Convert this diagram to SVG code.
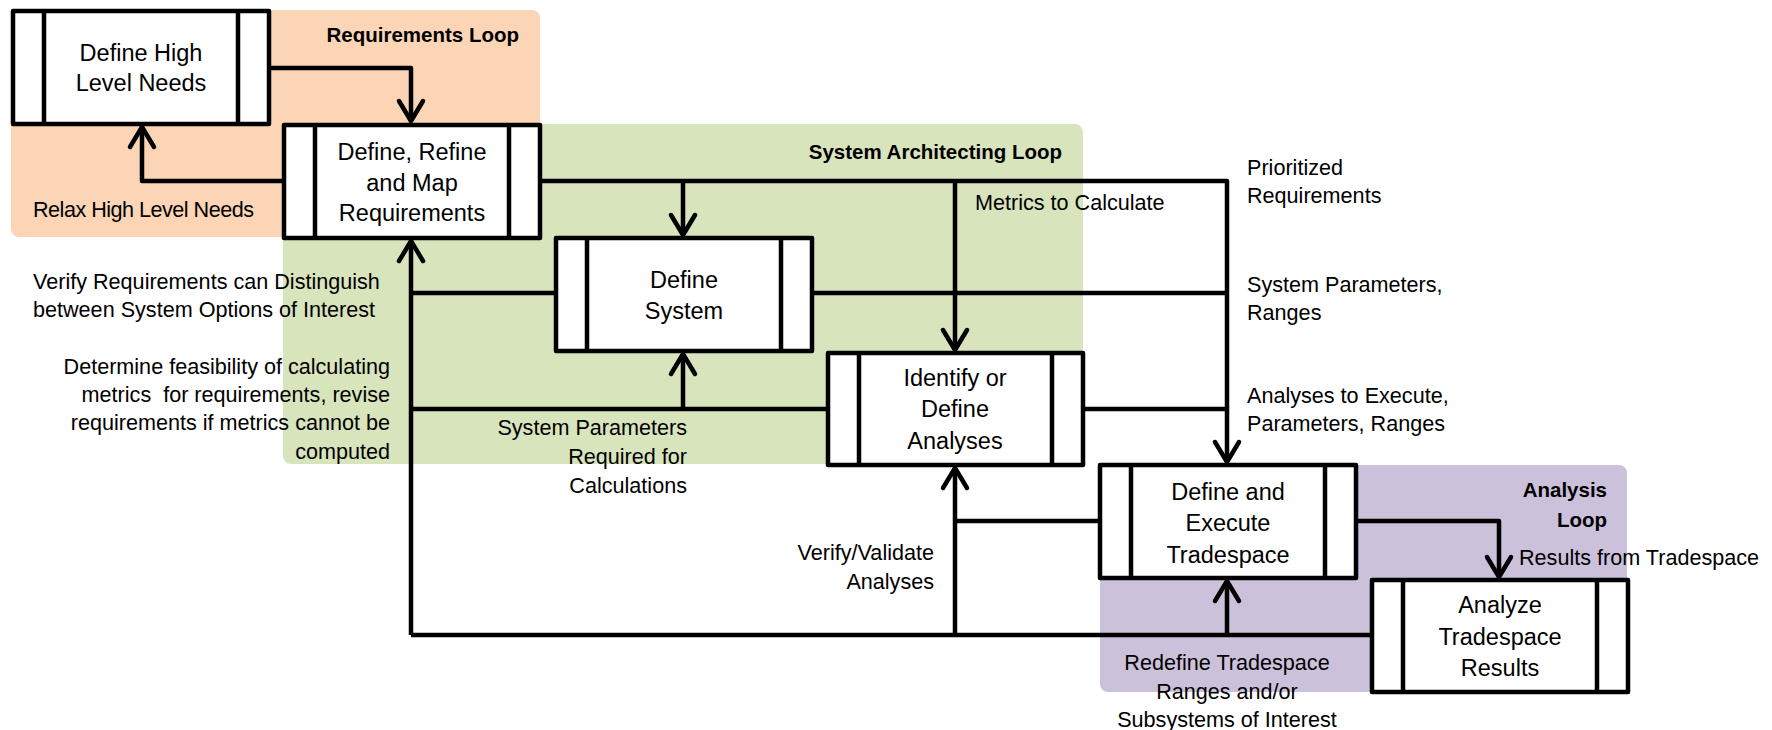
<svg xmlns="http://www.w3.org/2000/svg" width="1772" height="730" viewBox="0 0 1772 730">
<style>
.bg{stroke:none}
.box{fill:#fff;stroke:#000;stroke-width:4.5;stroke-linejoin:round}
.bar{stroke:#000;stroke-width:4.5}
.t{font-family:"Liberation Sans",Arial,sans-serif;font-size:23.5px;fill:#000;text-anchor:middle}
.l{font-family:"Liberation Sans",Arial,sans-serif;font-size:21.6px;fill:#000}
.b{font-family:"Liberation Sans",Arial,sans-serif;font-size:20.5px;font-weight:bold;fill:#000}
.c{fill:none;stroke:#000;stroke-width:4.5;stroke-linejoin:round}
</style>
<defs>
<marker id="ah" markerUnits="userSpaceOnUse" markerWidth="40" markerHeight="40" viewBox="-25 -20 30 40" refX="0" refY="0" orient="auto" overflow="visible">
<path d="M-20,-12 L0,0 L-20,12" fill="none" stroke="#000" stroke-width="4.5" stroke-linecap="round" stroke-linejoin="round"/>
</marker>
</defs>
<rect width="1772" height="730" fill="#fff"/>
<g id="loops">
<rect class="bg" x="11" y="10" width="529" height="227" rx="8" fill="#FBD5B5"/>
<rect class="bg" x="283" y="124" width="800" height="340" rx="8" fill="#D8E4BC"/>
<rect class="bg" x="1100" y="465" width="527" height="227" rx="8" fill="#CCC1DA"/>
<text class="b" x="519" y="42" text-anchor="end">Requirements Loop</text>
<text class="b" x="1062" y="159" text-anchor="end">System Architecting Loop</text>
<text class="b" x="1607" y="497" text-anchor="end">Analysis</text>
<text class="b" x="1607" y="527" text-anchor="end">Loop</text>
</g>
<g id="connectors">
<path class="c" d="M269,68 H411 V121" marker-end="url(#ah)"/>
<path class="c" d="M284,181 H142 V127" marker-end="url(#ah)"/>
<path class="c" d="M540,181 H1227 V462" marker-end="url(#ah)"/>
<path class="c" d="M683,181 V235" marker-end="url(#ah)"/>
<path class="c" d="M955,181 V350" marker-end="url(#ah)"/>
<path class="c" d="M812,293 H1227"/>
<path class="c" d="M556,293 H411"/>
<path class="c" d="M411,635 V241" marker-end="url(#ah)"/>
<path class="c" d="M828,409 H411"/>
<path class="c" d="M683,409 V354" marker-end="url(#ah)"/>
<path class="c" d="M1083,409 H1227"/>
<path class="c" d="M1100,521 H955"/>
<path class="c" d="M955,635 V468" marker-end="url(#ah)"/>
<path class="c" d="M1356,521 H1499 V577" marker-end="url(#ah)"/>
<path class="c" d="M1372,635 H411"/>
<path class="c" d="M1227,635 V581" marker-end="url(#ah)"/>
<text class="l" x="33" y="217" textLength="221">Relax High Level Needs</text>
<text class="l" x="975" y="210">Metrics to Calculate</text>
<text class="l" x="1247" y="175">Prioritized</text>
<text class="l" x="1247" y="203">Requirements</text>
<text class="l" x="1247" y="292">System Parameters,</text>
<text class="l" x="1247" y="320">Ranges</text>
<text class="l" x="1247" y="403">Analyses to Execute,</text>
<text class="l" x="1247" y="431">Parameters, Ranges</text>
<text class="l" x="33" y="289">Verify Requirements can Distinguish</text>
<text class="l" x="33" y="317">between System Options of Interest</text>
<g text-anchor="end">
<text class="l" x="390" y="374">Determine feasibility of calculating</text>
<text class="l" x="390" y="402" xml:space="preserve">metrics  for requirements, revise</text>
<text class="l" x="390" y="430">requirements if metrics cannot be</text>
<text class="l" x="390" y="459">computed</text>
<text class="l" x="687" y="435">System Parameters</text>
<text class="l" x="687" y="464">Required for</text>
<text class="l" x="687" y="493">Calculations</text>
<text class="l" x="934" y="560">Verify/Validate</text>
<text class="l" x="934" y="589">Analyses</text>
</g>
<text class="l" x="1519" y="565">Results from Tradespace</text>
<g text-anchor="middle">
<text class="l" x="1227" y="670">Redefine Tradespace</text>
<text class="l" x="1227" y="699">Ranges and/or</text>
<text class="l" x="1227" y="727">Subsystems of Interest</text>
</g>
</g>
<g id="n1">
<rect class="box" x="13" y="11" width="256" height="113"/>
<path class="bar" d="M44,11 V124 M238,11 V124"/>
<text class="t" x="141" y="61">Define High</text>
<text class="t" x="141" y="91">Level Needs</text>
</g>
<g id="n2">
<rect class="box" x="284" y="125" width="256" height="113"/>
<path class="bar" d="M315,125 V238 M509,125 V238"/>
<text class="t" x="412" y="160">Define, Refine</text>
<text class="t" x="412" y="191">and Map</text>
<text class="t" x="412" y="221">Requirements</text>
</g>
<g id="n3">
<rect class="box" x="556" y="238" width="256" height="113"/>
<path class="bar" d="M587,238 V351 M781,238 V351"/>
<text class="t" x="684" y="288">Define</text>
<text class="t" x="684" y="319">System</text>
</g>
<g id="n4">
<rect class="box" x="828" y="353" width="255" height="112"/>
<path class="bar" d="M859,353 V465 M1052,353 V465"/>
<text class="t" x="955" y="386">Identify or</text>
<text class="t" x="955" y="417">Define</text>
<text class="t" x="955" y="449">Analyses</text>
</g>
<g id="n5">
<rect class="box" x="1100" y="465" width="256" height="113"/>
<path class="bar" d="M1131,465 V578 M1325,465 V578"/>
<text class="t" x="1228" y="500">Define and</text>
<text class="t" x="1228" y="531">Execute</text>
<text class="t" x="1228" y="563">Tradespace</text>
</g>
<g id="n6">
<rect class="box" x="1372" y="580" width="256" height="112"/>
<path class="bar" d="M1403,580 V692 M1597,580 V692"/>
<text class="t" x="1500" y="613">Analyze</text>
<text class="t" x="1500" y="645">Tradespace</text>
<text class="t" x="1500" y="676">Results</text>
</g>
</svg>
